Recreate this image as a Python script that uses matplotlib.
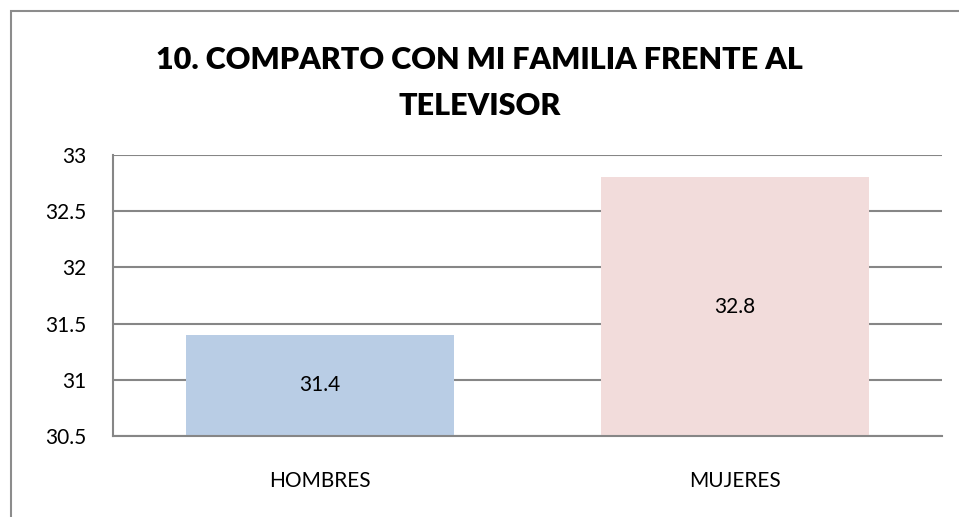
import matplotlib
matplotlib.use("Agg")
import matplotlib.pyplot as plt
from matplotlib.patches import Rectangle

# data
categories = ["HOMBRES", "MUJERES"]
values = [31.4, 32.8]
bar_colors = ["#B9CDE5", "#F2DCDB"]
y_ticks = [30.5, 31, 31.5, 32, 32.5, 33]
y_tick_labels = ["30.5", "31", "31.5", "32", "32.5", "33"]
title = "10. COMPARTO CON MI FAMILIA FRENTE AL\nTELEVISOR"

plt.rcParams['font.family'] = ['Lato', 'DejaVu Sans']

fig = plt.figure(figsize=(9.59, 5.17), dpi=100)
ax = fig.add_axes([113/959, 81/517, 829/959, 281/517])

base = y_ticks[0]
x = list(range(len(categories)))
heights = [v - base for v in values]
ax.bar(x, heights, bottom=base, width=0.647, color=bar_colors, zorder=2)

for xi, v in zip(x, values):
    ax.text(xi, (base + v) / 2, f"{v:.1f}", ha='center', va='center',
            fontsize=15, color='black', zorder=3)

ax.set_xlim(-0.5, len(categories) - 0.5)
ax.set_ylim(y_ticks[0], y_ticks[-1])
ax.set_yticks(y_ticks)
ax.set_yticklabels(y_tick_labels, fontsize=15)
ax.set_xticks(x)
ax.set_xticklabels(categories, fontsize=15)
ax.tick_params(axis='y', length=0, pad=19)
ax.tick_params(axis='x', length=0, pad=25)

ax.grid(axis='y', color='#868686', linewidth=1.5, zorder=1)
ax.set_axisbelow(True)
for side in ['top', 'right']:
    ax.spines[side].set_visible(False)
for side in ['left', 'bottom']:
    ax.spines[side].set_color('#868686')
    ax.spines[side].set_linewidth(1.5)

fig.text(0.5, 1 - 83/517, title, ha='center', va='center', fontsize=22,
         fontweight='heavy', linespacing=1.78)

# chart area border (only top and left edges visible in the frame)
fig.patches.append(Rectangle((11/959, -0.1), 1.2, 1 - 11/517 + 0.1,
                             transform=fig.transFigure, fill=False,
                             edgecolor='#8c8c8c', linewidth=1.5))

fig.savefig("out.png", dpi=100)
